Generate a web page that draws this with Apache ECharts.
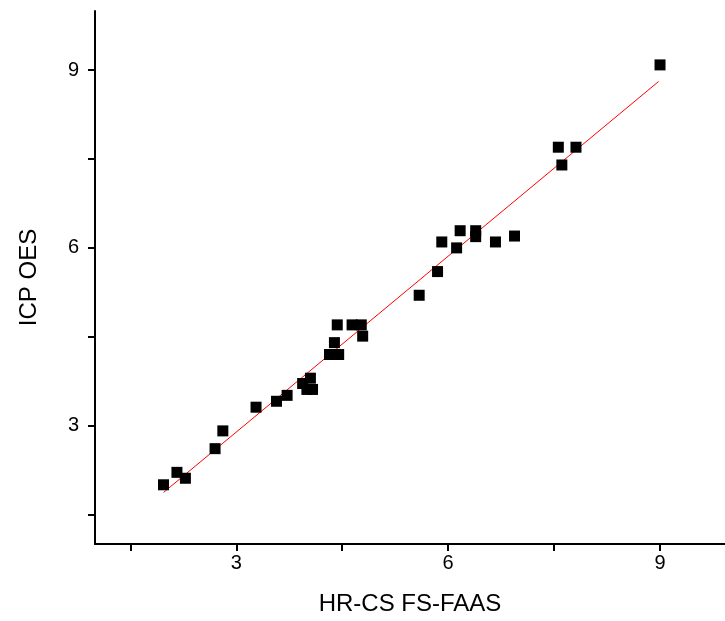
<!DOCTYPE html>
<html>
<head>
<meta charset="utf-8">
<script src="https://cdn.jsdelivr.net/npm/echarts@6/dist/echarts.min.js"></script>
<style>
  html, body { margin: 0; padding: 0; background: #fff; }
  #chart { width: 725px; height: 621px; }
</style>
</head>
<body>
<div id="chart"></div>
<script>
// measured points, HR-CS FS-FAAS vs ICP OES
var xVals = [1.97, 2.16, 2.28, 2.70, 2.81, 3.28, 3.57, 3.72, 3.94, 4.05, 4.00, 4.08,
             4.32, 4.45, 4.39, 4.43, 4.64, 4.77, 4.79,
             5.59, 5.85, 5.91, 6.12, 6.17, 6.39, 6.39, 6.67, 6.94,
             7.56, 7.81, 7.61, 9.00];
var yVals = [2.00, 2.21, 2.11, 2.61, 2.91, 3.31, 3.41, 3.51, 3.71, 3.80, 3.61, 3.61,
             4.20, 4.20, 4.40, 4.70, 4.70, 4.70, 4.51,
             5.20, 5.60, 6.10, 6.00, 6.29, 6.29, 6.19, 6.10, 6.20,
             7.70, 7.70, 7.40, 9.09];

// fitted line end points
var fitX = [1.97, 8.98];
var fitY = [1.87, 8.81];

var tickVals = [1.5, 3, 4.5, 6, 7.5, 9];
var labelVals = [3, 6, 9];

var points = [];
for (var i = 0; i < xVals.length; i++) {
    points.push([xVals[i], yVals[i]]);
}
var fitLine = [];
for (var j = 0; j < fitX.length; j++) {
    fitLine.push([fitX[j], fitY[j]]);
}

var myChart = echarts.init(document.getElementById('chart'));

var axisCommon = {
    type: 'value',
    min: 1,
    max: 10,
    splitLine: { show: false },
    axisLine: { show: true, lineStyle: { color: '#000', width: 2 } },
    axisTick: {
        show: true,
        inside: false,
        length: 7,
        customValues: tickVals,
        lineStyle: { color: '#000', width: 2 }
    },
    axisLabel: {
        customValues: labelVals,
        color: '#000',
        fontSize: 20,
        fontFamily: 'Liberation Sans, Arial, sans-serif'
    },
    nameLocation: 'middle',
    nameTextStyle: {
        color: '#000',
        fontSize: 24,
        fontFamily: 'Liberation Sans, Arial, sans-serif'
    }
};

var option = {
    animation: false,
    backgroundColor: '#fff',
    grid: {
        left: 95,
        right: 0,
        top: 11,
        bottom: 76
    },
    xAxis: Object.assign({}, axisCommon, {
        // the plot is cut off at the right edge of the picture
        max: 9.92,
        name: 'HR-CS FS-FAAS',
        nameGap: 48,
        axisLabel: Object.assign({}, axisCommon.axisLabel, { margin: 9 })
    }),
    yAxis: Object.assign({}, axisCommon, {
        name: 'ICP OES',
        nameGap: 54,
        axisLabel: Object.assign({}, axisCommon.axisLabel, { margin: 16 })
    }),
    series: [
        {
            type: 'line',
            data: fitLine,
            symbol: 'none',
            lineStyle: { color: '#ff0000', width: 1 },
            z: 1
        },
        {
            type: 'scatter',
            data: points,
            symbol: 'rect',
            symbolSize: 11,
            itemStyle: { color: '#000', opacity: 1 },
            z: 2
        }
    ]
};

option && myChart.setOption(option);
</script>
</body>
</html>
